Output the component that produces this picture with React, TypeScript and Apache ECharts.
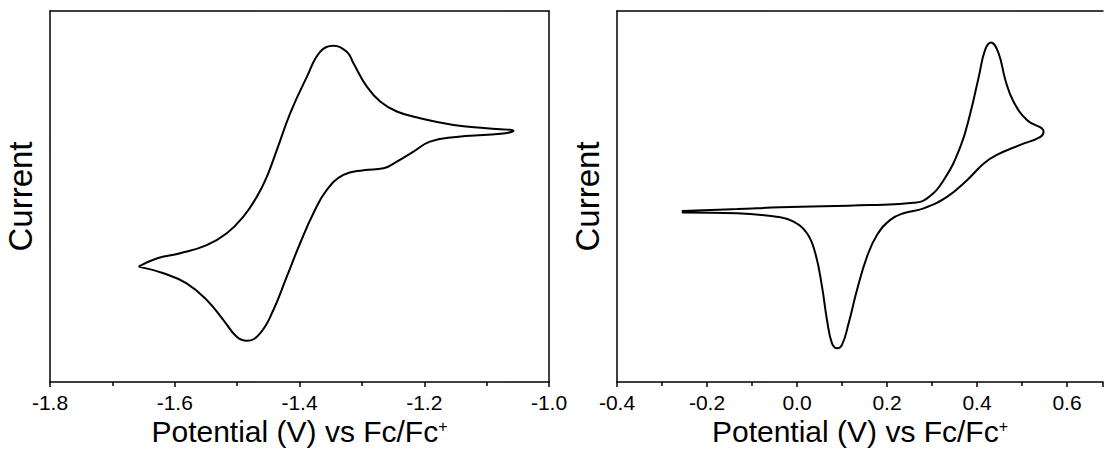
import React, { useEffect, useRef } from "react";
import * as echarts from "echarts";

// Left panel: cyclic voltammogram (potential in V vs Fc/Fc+, current arbitrary units)
const leftPotential = [
  -1.658, -1.629, -1.5915, -1.5487, -1.5166, -1.49, -1.4685, -1.4524, -1.4364, -1.415, -1.388, -1.367, -1.346,
  -1.3242, -1.3135, -1.292, -1.2707, -1.244, -1.2066, -1.153, -1.0996, -1.057,
  -1.073, -1.153, -1.191, -1.2173, -1.244, -1.2654, -1.2975, -1.3296, -1.3562, -1.3777, -1.399, -1.4204,
  -1.4419, -1.4632, -1.4845, -1.5006, -1.522, -1.5487, -1.581, -1.618, -1.658,
];
const leftCurrent = [
  31.1, 33.3, 34.7, 36.9, 40.1, 44.6, 49.9, 55.3, 62.5, 72.4, 82.3, 89.0, 90.6,
  89.0, 85.9, 79.6, 75.6, 72.9, 71.1, 69.3, 68.4, 67.7,
  67.0, 66.0, 64.8, 62.1, 59.4, 57.6, 57.1, 55.8, 51.8, 45.5, 37.4, 28.4,
  19.4, 13.1, 11.1, 12.2, 16.7, 22.1, 26.6, 29.3, 31.1,
];

// Right panel
const rightPotential = [
  -0.256, -0.133, -0.0371, 0.163, 0.2591, 0.2889, 0.3258, 0.363, 0.385, 0.404, 0.418, 0.431, 0.448, 0.463,
  0.481, 0.511, 0.548,
  0.541, 0.496, 0.444, 0.415, 0.3778, 0.3333, 0.2813, 0.2369, 0.2073, 0.1778, 0.1556, 0.1333, 0.1147, 0.1,
  0.0889, 0.0778, 0.0667, 0.0556, 0.0407, 0.0222, -0.0076, -0.0371, -0.133, -0.256,
];
const rightCurrent = [
  46.1, 46.6, 47.1, 47.7, 48.3, 49.5, 54.4, 63.4, 72.4, 82.3, 89.5, 91.5, 88.6, 81.4,
  75.6, 70.6, 67.5,
  66.1, 63.9, 61.2, 58.9, 54.4, 49.9, 46.8, 45.5, 43.7, 39.6, 33.8, 24.8, 15.8, 10.0,
  9.1, 10.4, 16.7, 25.7, 34.7, 40.1, 43.2, 44.4, 45.5, 45.7,
];

const leftRange = { min: -1.8, max: -1.0, interval: 0.2 };
const rightRange = { min: -0.4, max: 0.68, interval: 0.2 };
const xTitle = "Potential (V) vs Fc/Fc{sup|+}";
const yTitle = "Current";

const FONT = "'Liberation Sans', Arial, sans-serif";
const LINE = { color: "#000", width: 1.5 };

function xAxis(gridIndex: number, r: { min: number; max: number; interval: number }, showMax: boolean) {
  return {
    type: "value",
    gridIndex,
    position: "bottom",
    min: r.min,
    max: r.max,
    interval: r.interval,
    name: xTitle,
    nameLocation: "middle",
    nameGap: 36,
    nameMoveOverlap: false,
    nameTextStyle: {
      fontSize: 30,
      lineHeight: 26,
      color: "#000",
      fontFamily: FONT,
      rich: { sup: { fontSize: 16, lineHeight: 26, color: "#000", fontFamily: FONT, verticalAlign: "top" } },
    },
    axisLine: { show: true, onZero: false, lineStyle: LINE },
    axisTick: { show: true, inside: false, length: 5, lineStyle: LINE },
    minorTick: { show: true, splitNumber: 2, length: 4, lineStyle: LINE },
    splitLine: { show: false },
    minorSplitLine: { show: false },
    axisLabel: {
      margin: 10,
      fontSize: 21,
      lineHeight: 21,
      color: "#000",
      fontFamily: FONT,
      showMaxLabel: showMax,
      showMinLabel: true,
      hideOverlap: false,
      formatter: (v: number) => v.toFixed(1),
    },
  };
}

function topAxis(gridIndex: number, r: { min: number; max: number; interval: number }) {
  return {
    type: "value",
    gridIndex,
    position: "top",
    min: r.min,
    max: r.max,
    interval: r.interval,
    axisLine: { show: true, onZero: false, lineStyle: LINE },
    axisTick: { show: false },
    axisLabel: { show: false },
    splitLine: { show: false },
  };
}

function yAxis(gridIndex: number, position: string, withName: boolean) {
  return {
    type: "value",
    gridIndex,
    position,
    min: 0,
    max: 100,
    name: withName ? yTitle : "",
    nameLocation: "middle",
    nameGap: 13,
    nameMoveOverlap: false,
    nameTextStyle: { fontSize: 33, color: "#000", fontFamily: FONT },
    axisLine: { show: true, onZero: false, lineStyle: LINE },
    axisTick: { show: false },
    axisLabel: { show: false },
    splitLine: { show: false },
  };
}

export default function App() {
  const ref = useRef<HTMLDivElement>(null);
  useEffect(() => {
    if (!ref.current) return;
    const chart = echarts.init(ref.current, null, { renderer: "svg" });
    const leftData = leftPotential.map((p, i) => [p, leftCurrent[i]]);
    const rightData = rightPotential.map((p, i) => [p, rightCurrent[i]]);
    chart.setOption({
      animation: false,
      backgroundColor: "#fff",
      grid: [
        { left: 50, top: 11, width: 499, height: 371, outerBoundsMode: "none", containLabel: false },
        { left: 617, top: 11, width: 486, height: 371, outerBoundsMode: "none", containLabel: false },
      ],
      xAxis: [
        xAxis(0, leftRange, true),
        xAxis(1, rightRange, false),
        topAxis(0, leftRange),
        topAxis(1, rightRange),
      ],
      yAxis: [yAxis(0, "left", true), yAxis(1, "left", true), yAxis(0, "right", false)],
      series: [
        {
          type: "line",
          xAxisIndex: 0,
          yAxisIndex: 0,
          data: leftData,
          smooth: 0.45,
          symbol: "none",
          lineStyle: { color: "#000", width: 2 },
        },
        {
          type: "line",
          xAxisIndex: 1,
          yAxisIndex: 1,
          data: rightData,
          smooth: 0.45,
          symbol: "none",
          lineStyle: { color: "#000", width: 2 },
        },
      ],
    });
    return () => chart.dispose();
  }, []);
  return (
    <div
      ref={ref}
      style={{ position: "fixed", left: 0, top: 0, width: 1105, height: 449, background: "#fff" }}
    />
  );
}
